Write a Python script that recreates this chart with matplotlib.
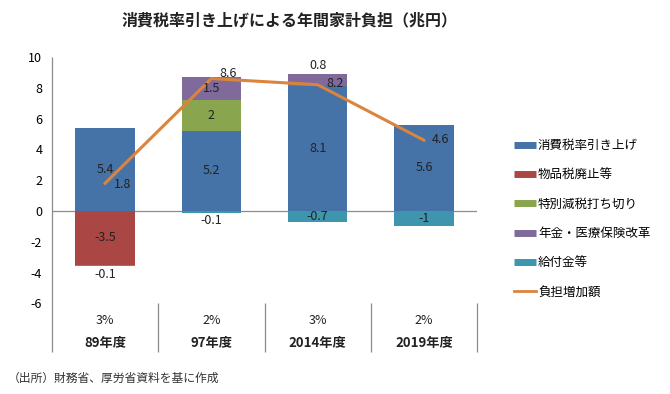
import matplotlib
matplotlib.use("Agg")
import matplotlib.pyplot as plt
from matplotlib.lines import Line2D

plt.rcParams['font.family'] = ['Noto Sans CJK JP', 'DejaVu Sans']
plt.rcParams['axes.unicode_minus'] = False

# data (兆円)
years = ["89年度", "97年度", "2014年度", "2019年度"]
rates = ["3%", "2%", "3%", "2%"]
tax_hike = [5.4, 5.2, 8.1, 5.6]
commodity_tax = [-3.5, 0, 0, 0]
special_cut_end = [0, 2, 0, 0]
pension = [0, 1.5, 0.8, 0]
benefits = [-0.1, -0.1, -0.7, -1.0]
net_burden = [1.8, 8.6, 8.2, 4.6]

series_names = ["消費税率引き上げ", "物品税廃止等", "特別減税打ち切り", "年金・医療保険改革", "給付金等"]
series = [tax_hike, commodity_tax, special_cut_end, pension, benefits]
colors = ["#4572A7", "#AA4643", "#89A54E", "#80699B", "#3D96AE"]
line_name = "負担増加額"
line_color = "#DB843D"

fig = plt.figure(figsize=(6.7, 3.94), dpi=100)
ax = fig.add_axes([52 / 670, 1 - 303.4 / 394, 425 / 670, 246.4 / 394])

x = list(range(len(years)))
width = 0.56
pos_bottom = [0.0] * len(x)
neg_bottom = [0.0] * len(x)

for vals, col in zip(series, colors):
    for i, v in enumerate(vals):
        if v == 0:
            continue
        if v > 0:
            b = pos_bottom[i]
            pos_bottom[i] += v
        else:
            b = neg_bottom[i]
            neg_bottom[i] += v
        ax.bar(i, v, width, bottom=b, color=col, zorder=2)
        # small segments get labelled outside the bar
        if abs(v) < 0.5 or (v > 0 and abs(v) < 1):
            ty = b + v + (0.55 if v > 0 else -0.5)
        else:
            ty = b + v / 2
        ax.text(i, ty, f"{v:g}", ha="center", va="center", fontsize=9,
                color="#222222", zorder=4)

ax.plot(x, net_burden, color=line_color, lw=2.2, zorder=3)
label_dy = [-0.1, 0.35, 0.1, 0.05]
for i, v in enumerate(net_burden):
    ax.text(i + 0.16, v + label_dy[i], f"{v:g}", ha="center", va="center",
            fontsize=9, color="#222222", zorder=4)

ax.axhline(0, color="#8c8c8c", lw=0.9, zorder=1)

ax.set_xlim(-0.5, 3.5)
ax.set_ylim(-6, 10)
ax.set_yticks(range(-6, 11, 2))
ax.tick_params(axis="y", length=0, pad=7, labelsize=9)
ax.set_xticks([])
for s in ax.spines.values():
    s.set_visible(False)

# left axis line and category separators
ax.vlines([-0.5], -9.15, 10, color="#8c8c8c", lw=0.9, clip_on=False)
ax.vlines([0.5, 1.5, 2.5, 3.5], -9.15, -6, color="#8c8c8c", lw=0.9, clip_on=False)
for i in x:
    ax.text(i, -7.1, rates[i], ha="center", va="center", fontsize=9, color="#222222")
    ax.text(i, -8.55, years[i], ha="center", va="center", fontsize=9.5,
            fontweight="bold", color="#222222")

fig.text(290 / 670, 1 - 20 / 394, "消費税率引き上げによる年間家計負担（兆円）",
         ha="center", va="center", fontsize=11.5, fontweight="bold", color="#222222")
fig.text(8 / 670, 1 - 378 / 394, "（出所）財務省、厚労省資料を基に作成",
         ha="left", va="center", fontsize=8.5, color="#333333")

handles = [Line2D([], [], color=c, lw=5, solid_capstyle="butt") for c in colors]
handles.append(Line2D([], [], color=line_color, lw=2))
fig.legend(handles, series_names + [line_name], loc="upper left",
           bbox_to_anchor=(503 / 670, 1 - 128 / 394), frameon=False,
           fontsize=9, handlelength=1.7, handletextpad=0.2, labelspacing=1.3)

fig.savefig("out.png", dpi=100)
